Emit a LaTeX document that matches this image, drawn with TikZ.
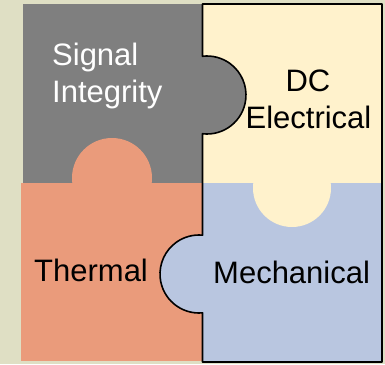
\documentclass[tikz,border=0pt]{standalone}
\usepackage{fontspec}
\setmainfont{Liberation Sans}
\definecolor{bgc}{HTML}{DFDFC4}
\definecolor{grayp}{HTML}{7F7F7F}
\definecolor{yelp}{HTML}{FFF2CC}
\definecolor{salp}{HTML}{EA9B7B}
\definecolor{blup}{HTML}{B9C6E0}
\tikzset{
  lbl/.style={inner sep=0pt, font=\fontsize{31}{37}\selectfont},
  outl/.style={draw=black, line width=1.6pt, line join=round}
}
\begin{document}
\begin{tikzpicture}[x=1pt,y=-1pt]
\useasboundingbox (0,0) rectangle (385,364);
\fill[bgc] (0,0) rectangle (385,364);
% pieces
\fill[grayp] (23,4) rectangle (202.5,183);
\fill[yelp] (202.5,4) rectangle (382,183);
\fill[blup] (202.5,183) rectangle (382,362);
\fill[salp] (21,183) rectangle (202.5,361);
% knobs
\fill[grayp] (207,95) circle[radius=39];
\fill[salp] (112,178) circle[radius=40];
\fill[yelp] (292,188) circle[radius=39];
\fill[blup] (199,274) circle[radius=39];
% outline of right half
\draw[outl] (202.5,4) -- (382,4) -- (382,362) -- (202.5,362)
  -- (202.5,312.84) arc[start angle=84.85, end angle=275.15, radius=39]
  -- (202.5,133.74) arc[start angle=96.6, end angle=-96.6, radius=39]
  -- cycle;
% labels
\node[lbl, text=white, anchor=base west] (si1) at (52,65) {Signal};
\node[lbl, text=white, anchor=base west] (si2) at (52,102) {Integrity};
\node[lbl, anchor=base] (dc1) at (308,91) {DC};
\node[lbl, anchor=base] (dc2) at (308.5,128) {Electrical};
\node[lbl, anchor=base west] (th) at (34,281) {Thermal};
\node[lbl, anchor=base west] (me) at (213,283) {Mechanical};
\end{tikzpicture}
\end{document}
